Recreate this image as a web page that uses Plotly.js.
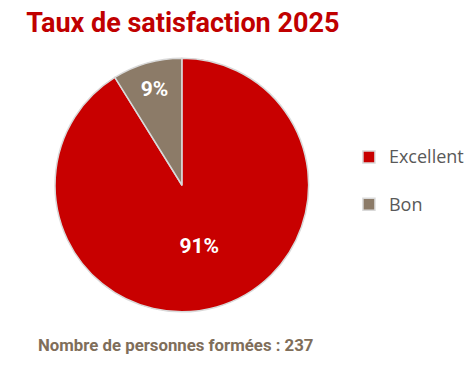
<!DOCTYPE html>
<html>
<head>
<meta charset="utf-8">
<script src="https://cdn.plot.ly/plotly-3.0.1.min.js"></script>
<style>html,body{margin:0;padding:0;background:#fff}#chart{width:469px;height:372px}</style>
</head>
<body>
<div id="chart"></div>
<script>
const categories = ["Excellent", "Bon"];
const counts = [216, 21];
const sliceColors = ["#C80000", "#8C7B68"];
const chartTitle = "Taux de satisfaction 2025";
const footnote = "Nombre de personnes formées : 237";

const trace = {
  type: "pie",
  labels: categories.map(c => '<span style="font-size:18px;baseline-shift:7px">' + c + '</span>'),
  values: counts,
  sort: false,
  direction: "clockwise",
  rotation: 0,
  marker: {colors: sliceColors, line: {color: "#D9D9D9", width: 1.5}},
  texttemplate: "%{percent:.0%}",
  textposition: "inside",
  insidetextorientation: "horizontal",
  textfont: {family: "Roboto, Arial, sans-serif", size: 21, color: "#FFFFFF", weight: "bold"},
  hoverinfo: "label+percent",
  domain: {x: [56/469, 314/469], y: [1 - 313/372, 1 - 57/372]}
};

const layout = {
  width: 469, height: 372,
  margin: {l: 0, r: 0, t: 0, b: 0},
  paper_bgcolor: "#FFFFFF",
  showlegend: true,
  title: {
    text: "<b>" + chartTitle + "</b>",
    font: {family: "Roboto, Arial, sans-serif", size: 27, color: "#C00000"},
    x: 186/469, xanchor: "center", xref: "paper",
    y: 1 - 23/372, yanchor: "middle", yref: "container"
  },
  legend: {
    x: 355/469, xanchor: "left",
    y: 1 - 181/372, yanchor: "middle",
    itemwidth: 30,
    font: {family: "Open Sans, Noto Sans, sans-serif", size: 34, color: "#595959"},
    bgcolor: "rgba(0,0,0,0)"
  },
  annotations: [{
    text: "<b>" + footnote + "</b>",
    x: 179/469, xref: "paper", xanchor: "center",
    y: 1 - 345/372, yref: "paper", yanchor: "middle",
    showarrow: false,
    font: {family: "Roboto, Arial, sans-serif", size: 16.8, color: "#7F6E5A"}
  }]
};

Plotly.newPlot("chart", [trace], layout, {displayModeBar: false, staticPlot: true});
</script>
</body>
</html>
